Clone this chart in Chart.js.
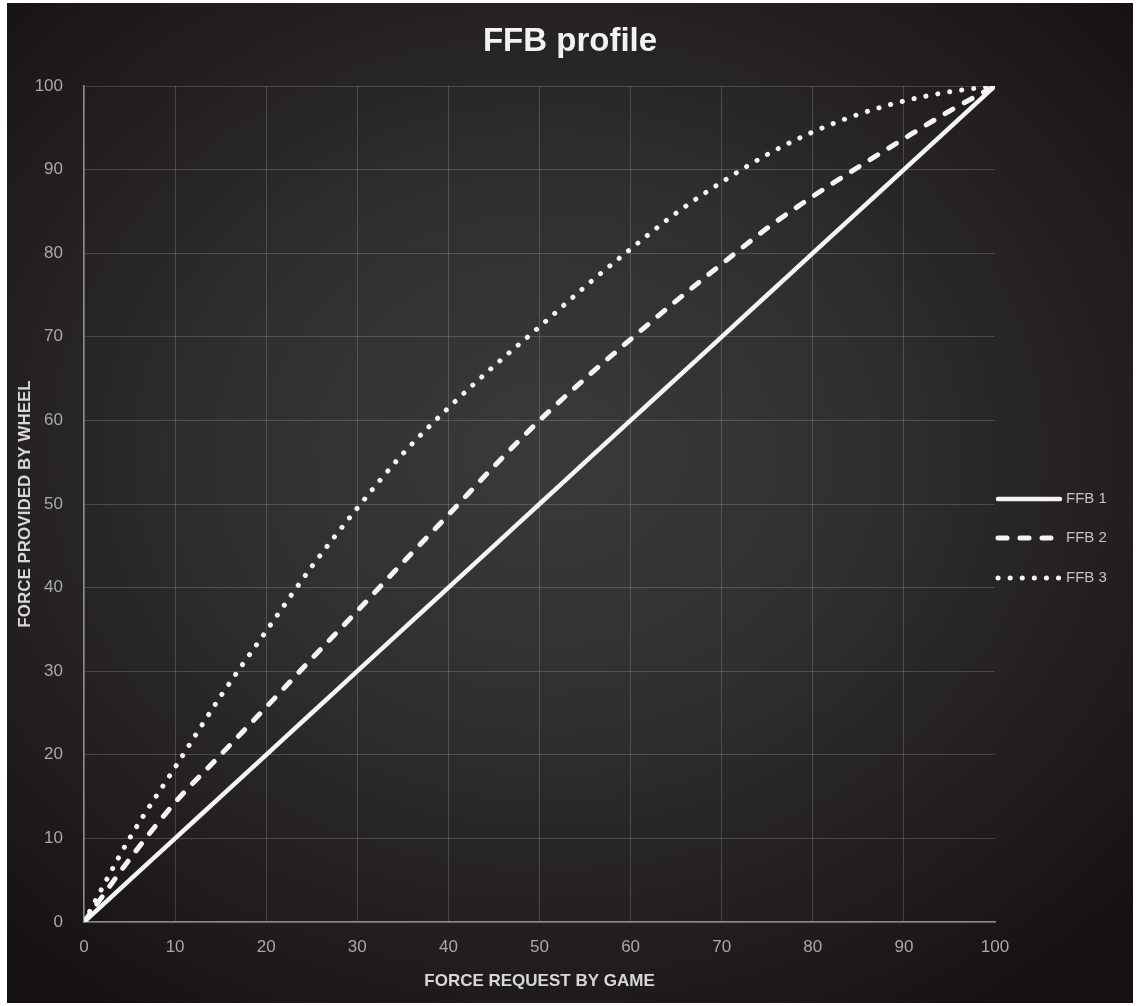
<!DOCTYPE html>
<html lang="en">
<head>
    <meta charset="utf-8" />
    <title>FFB profile</title>
    <style>
        html, body { margin: 0; padding: 0; background: #fff; }
        #frame {
            position: absolute; left: 7px; top: 3px; width: 1126px; height: 1000px;
            background: radial-gradient(ellipse 72% 68% at 48% 45%, #3b3a3a 0%, #302e2e 40%, #1f1c1b 78%, #141110 100%);
        }
    </style>
</head>
<body>
    <div id="frame"><canvas id="ffbChart"></canvas></div>

    <script src="https://cdn.jsdelivr.net/npm/chart.js"></script>
    <script>
        // values
        const forceRequest = [0, 5, 10, 15, 20, 25, 30, 35, 40, 45, 50, 55, 60, 65, 70, 75, 80, 85, 90, 95, 100];
        const ffb1 = [0, 5, 10, 15, 20, 25, 30, 35, 40, 45, 50, 55, 60, 65, 70, 75, 80, 85, 90, 95, 100];
        const ffb2 = [0, 7.5, 14.3, 20, 25.7, 31.5, 37.2, 43, 48.7, 54.5, 60, 65, 69.7, 74.3, 78.7, 83, 86.8, 90.3, 93.7, 97, 100];
        const ffb3 = [0, 10, 18.5, 27, 34.8, 42.5, 49.5, 56, 61.5, 66.5, 71.2, 76, 80.5, 84.8, 88.5, 91.8, 94.5, 96.6, 98.2, 99.3, 100];
        const seriesNames = ['FFB 1', 'FFB 2', 'FFB 3'];
        const axisTicks = [0, 10, 20, 30, 40, 50, 60, 70, 80, 90, 100];

        const toPoints = vals => vals.map((v, i) => ({ x: forceRequest[i], y: v }));

        const tickFont = { family: "'Liberation Sans', Arial, sans-serif", size: 17 };
        const axisTitleFont = { family: "'Liberation Sans', Arial, sans-serif", size: 17, weight: 'bold', lineHeight: 1.2 };

        // legend drawn by hand so the line samples sit right next to the plot
        const lineLegend = {
            id: 'lineLegend',
            afterDraw(chart) {
                const ctx = chart.ctx;
                const x0 = chart.chartArea.right + 3;
                const rows = [496, 535, 575];
                chart.data.datasets.forEach((ds, i) => {
                    const y = rows[i];
                    ctx.save();
                    ctx.strokeStyle = ds.borderColor;
                    ctx.lineWidth = ds.borderWidth;
                    ctx.lineCap = ds.borderCapStyle || 'butt';
                    ctx.setLineDash(ds.borderDash || []);
                    ctx.beginPath();
                    ctx.moveTo(x0, y);
                    ctx.lineTo(x0 + 62, y);
                    ctx.stroke();
                    ctx.setLineDash([]);
                    ctx.fillStyle = '#c4c4c4';
                    ctx.font = "15px 'Liberation Sans', Arial, sans-serif";
                    ctx.textBaseline = 'middle';
                    ctx.fillText(ds.label, x0 + 68, y);
                    ctx.restore();
                });
            }
        };

        new Chart(document.getElementById('ffbChart'), {
            type: 'line',
            data: {
                datasets: [{
                    label: seriesNames[0],
                    data: toPoints(ffb1),
                    borderColor: '#f4f4f4',
                    borderWidth: 4.5,
                    borderCapStyle: 'round'
                }, {
                    label: seriesNames[1],
                    data: toPoints(ffb2),
                    borderColor: '#f4f4f4',
                    borderWidth: 5,
                    borderCapStyle: 'round',
                    borderDash: [9, 13]
                }, {
                    label: seriesNames[2],
                    data: toPoints(ffb3),
                    borderColor: '#f4f4f4',
                    borderWidth: 5,
                    borderCapStyle: 'round',
                    borderDash: [0.1, 12]
                }]
            },
            options: {
                responsive: true,
                maintainAspectRatio: false,
                animation: false,
                layout: { padding: 0 },
                elements: {
                    point: { radius: 0 },
                    line: { cubicInterpolationMode: 'monotone', fill: false }
                },
                plugins: {
                    legend: { display: false },
                    tooltip: { enabled: false },
                    title: {
                        display: true,
                        text: 'FFB profile',
                        color: '#f2f2f2',
                        font: { family: "'Liberation Sans', Arial, sans-serif", size: 33, weight: 'bold', lineHeight: 1.2 },
                        padding: { top: 19, bottom: 24.4 }
                    }
                },
                scales: {
                    x: {
                        type: 'linear',
                        min: 0,
                        max: 100,
                        afterBuildTicks: s => { s.ticks = axisTicks.map(v => ({ value: v })); },
                        afterFit: s => { s.height = 81; },
                        ticks: { color: '#a9a9a9', font: tickFont, padding: 15 },
                        grid: {
                            drawTicks: false,
                            color: ctx => ctx.tick && ctx.tick.value === 100 ? 'rgba(0,0,0,0)' : 'rgba(255,255,255,0.17)'
                        },
                        border: { color: '#8a8a8a', width: 1.5 },
                        title: {
                            display: true,
                            text: 'FORCE REQUEST BY GAME',
                            color: '#d8d8d8',
                            font: axisTitleFont,
                            padding: { top: 0, bottom: 11 }
                        }
                    },
                    y: {
                        min: 0,
                        max: 100,
                        afterBuildTicks: s => { s.ticks = axisTicks.map(v => ({ value: v })); },
                        afterFit: s => { s.width = 77; },
                        ticks: { color: '#a9a9a9', font: tickFont, padding: 21 },
                        grid: { drawTicks: false, color: 'rgba(255,255,255,0.17)' },
                        border: { color: '#8a8a8a', width: 1.5 },
                        title: {
                            display: true,
                            text: 'FORCE PROVIDED BY WHEEL',
                            color: '#d8d8d8',
                            font: axisTitleFont,
                            padding: { top: 8, bottom: 0 }
                        }
                    },
                    // empty right-hand box that reserves the legend column
                    legendSpace: {
                        position: 'right',
                        afterFit: s => { s.width = 138; },
                        ticks: { display: false },
                        grid: { display: false, drawOnChartArea: false },
                        border: { display: false }
                    }
                }
            },
            plugins: [lineLegend]
        });
    </script>
</body>
</html>
